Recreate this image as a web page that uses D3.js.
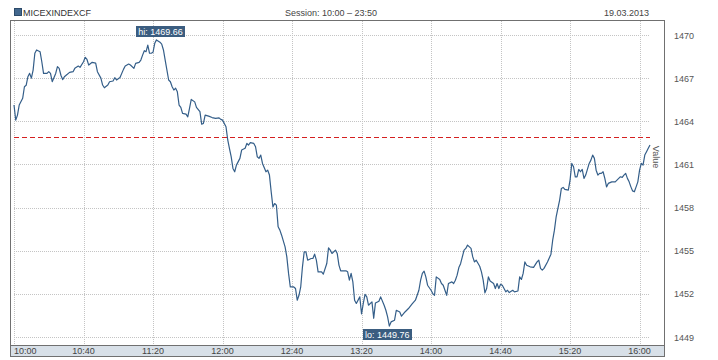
<!DOCTYPE html>
<html><head><meta charset="utf-8">
<script src="https://cdn.jsdelivr.net/npm/d3@7"></script>
<style>
html,body{margin:0;padding:0;background:#fff;}
svg{display:block;font-family:"Liberation Sans",Arial,sans-serif;}
</style></head>
<body><svg id="chart" width="718" height="360"></svg>
<script>
const seriesName = "MICEXINDEXCF";
const sessionText = "Session: 10:00 \u2013 23:50";
const dateText = "19.03.2013";
const axisTitle = "Value";
const prevClose = 1462.88;
const yTicks = [1449, 1452, 1455, 1458, 1461, 1464, 1467, 1470];
const xTicks = ["10:00","10:40","11:20","12:00","12:40","13:20","14:00","14:40","15:20","16:00"];
const xDomain = ["10:00","16:06"];
const times = [
"10:00","10:01","10:02","10:03","10:05","10:06","10:07","10:08","10:09","10:10","10:11","10:12","10:13","10:15","10:16","10:17","10:19","10:20","10:21","10:22","10:24","10:25","10:26","10:27","10:28","10:29","10:30","10:32","10:34","10:35","10:37","10:38","10:40","10:41","10:42","10:43","10:45","10:47","10:48","10:50","10:51","10:52","10:54","10:55","10:57","10:58","10:59",
"11:01","11:03","11:04","11:06","11:07","11:09","11:10","11:12","11:13","11:14","11:15","11:16","11:17","11:18","11:19","11:20","11:21","11:22","11:24","11:25","11:26","11:27","11:29","11:30","11:31","11:32","11:33","11:34","11:35","11:36","11:37","11:39","11:40","11:41","11:42","11:44","11:45","11:47","11:48","11:49","11:50","11:52","11:54","11:56","11:58","11:59",
"12:00","12:02","12:03","12:04","12:05","12:06","12:07","12:08","12:10","12:11","12:13","12:14","12:15","12:16","12:18","12:19","12:20","12:21","12:22","12:23","12:25","12:26","12:27","12:28","12:29","12:30","12:31","12:32","12:33","12:34","12:36","12:37","12:38","12:39","12:41","12:42","12:43","12:44","12:45","12:46","12:47","12:48","12:49","12:51","12:52","12:53","12:54","12:55","12:57","12:58",
"13:00","13:01","13:02","13:03","13:05","13:06","13:07","13:08","13:11","13:12","13:13","13:14","13:15","13:16","13:17","13:19","13:20","13:21","13:22","13:23","13:24","13:26","13:27","13:28","13:30","13:31","13:33","13:34","13:35","13:36","13:37","13:39","13:40","13:42","13:43","13:45","13:47","13:49","13:51","13:53","13:54","13:55","13:56","13:57","13:58",
"14:00","14:01","14:02","14:03","14:05","14:06","14:07","14:08","14:09","14:10","14:12","14:13","14:14","14:15","14:16","14:17","14:18","14:19","14:20","14:21","14:23","14:24","14:25","14:26","14:28","14:29","14:30","14:31","14:32","14:33","14:34","14:36","14:37","14:38","14:39","14:40","14:41","14:42","14:43","14:44","14:45","14:47","14:48","14:50","14:51","14:52","14:53","14:54","14:55","14:57","14:59",
"15:01","15:02","15:03","15:04","15:05","15:07","15:09","15:10","15:11","15:12","15:13","15:14","15:15","15:16","15:17","15:19","15:20","15:21","15:22","15:23","15:24","15:25","15:26","15:27","15:28","15:29","15:31","15:32","15:33","15:34","15:35","15:36","15:37","15:38","15:39","15:40","15:41","15:42","15:44","15:46","15:48","15:49","15:50","15:51","15:52","15:53","15:54","15:55","15:56","15:57","15:58","15:59",
"16:00","16:01","16:02","16:03","16:04","16:05","16:06"];
const values = [
1465.13,1464.08,1464.43,1465.13,1465.6,1466.4,1466.5,1467.1,1467.33,1467.0,1467.56,1468.73,1468.96,1468.84,1468.14,1467.33,1467.33,1467.45,1467.33,1466.75,1467.33,1467.8,1467.68,1467.2,1466.9,1467.1,1467.2,1467.4,1467.45,1467.68,1467.84,1467.75,1468.14,1468.45,1468.3,1467.91,1468.1,1468.05,1467.45,1467.0,1466.52,1466.33,1466.52,1466.75,1466.8,1467.03,1466.87,
1467.05,1467.61,1467.84,1467.98,1467.91,1467.68,1468.03,1468.1,1468.26,1468.6,1468.91,1468.84,1469.3,1468.73,1468.73,1468.8,1469.42,1469.66,1469.5,1469.37,1468.96,1468.26,1466.87,1466.75,1466.4,1466.17,1466.3,1466.05,1465.13,1464.97,1464.55,1464.5,1464.31,1464.9,1465.52,1465.35,1464.97,1464.67,1463.8,1463.85,1464.43,1464.36,1464.26,1464.2,1464.24,1464.13,
1464.08,1463.62,1462.7,1462.1,1461.53,1460.72,1460.49,1460.95,1461.42,1462.0,1462.12,1462.46,1462.35,1462.52,1462.46,1462.23,1461.53,1461.42,1461.65,1461.07,1460.49,1460.6,1460.26,1459.1,1458.05,1458.28,1458.17,1456.66,1456.43,1456.08,1455.27,1454.57,1453.42,1452.48,1452.48,1452.37,1451.56,1451.9,1452.48,1453.88,1454.92,1454.92,1454.34,1454.46,1454.46,1454.76,1454.34,1453.53,1453.53,1453.37,
1454.11,1455.2,1455.04,1454.81,1455.04,1454.81,1454.0,1453.6,1453.6,1453.53,1452.95,1453.42,1452.83,1451.56,1451.33,1451.79,1450.6,1451.33,1451.96,1451.79,1451.21,1451.44,1450.3,1451.37,1451.49,1451.79,1451.21,1450.86,1450.4,1449.76,1450.05,1450.17,1450.86,1450.74,1450.45,1450.74,1450.98,1451.28,1451.56,1452.25,1452.95,1453.42,1453.58,1453.18,1452.6,
1452.25,1452.02,1451.9,1453.18,1453.0,1452.72,1452.6,1452.25,1451.9,1452.72,1452.83,1452.72,1452.95,1453.3,1453.83,1454.1,1454.57,1455.04,1455.16,1455.39,1455.16,1454.57,1454.22,1454.34,1453.92,1453.53,1452.95,1452.07,1452.37,1453.18,1452.9,1452.72,1452.37,1452.72,1452.37,1452.67,1452.6,1452.37,1452.14,1452.25,1452.09,1452.25,1452.14,1452.2,1453.18,1453.0,1453.42,1454.22,1453.99,1453.88,1453.84,
1454.22,1454.34,1453.77,1453.65,1453.77,1454.22,1454.76,1455.73,1456.43,1457.36,1457.94,1458.52,1459.33,1459.4,1459.26,1459.21,1459.91,1461.07,1460.84,1460.14,1460.14,1460.65,1460.49,1460.65,1460.03,1460.26,1461.07,1461.3,1461.65,1461.42,1460.6,1460.26,1460.38,1460.38,1460.49,1460.03,1459.44,1459.68,1459.79,1459.79,1460.03,1460.14,1460.1,1460.26,1460.38,1460.03,1459.79,1459.44,1459.16,1459.1,1459.44,1459.79,
1460.6,1461.07,1460.95,1461.65,1461.88,1462.12,1462.35];

const parseT = d3.timeParse("%Y-%m-%d %H:%M");
const toDate = s => parseT("2013-03-19 " + s);
const data = times.map((t,i)=>({t: toDate(t), v: values[i]}));

const svg = d3.select("#chart");
const frame = {l:10, t:20, r:664, b:356};
const band = {t:345, b:356};

const x = d3.scaleTime().domain(xDomain.map(toDate)).range([14, 650]);
const y = d3.scaleLinear().domain([1449, 1470]).range([337, 35]);

// header
svg.append("rect").attr("x",14.5).attr("y",8.5).attr("width",7).attr("height",7)
  .attr("fill","#42678d").attr("stroke","#2c4a69");
svg.append("text").attr("x",23).attr("y",15.5).attr("font-size",9).attr("fill","#333").text(seriesName);
svg.append("text").attr("x",331).attr("y",15.5).attr("font-size",9).attr("fill","#444").attr("text-anchor","middle").text(sessionText);
svg.append("text").attr("x",649).attr("y",15.5).attr("font-size",9).attr("fill","#444").attr("text-anchor","end").text(dateText);

// axis band
svg.append("rect").attr("x",frame.l+0.5).attr("y",band.t+0.5).attr("width",frame.r-frame.l).attr("height",band.b-band.t)
  .attr("fill","#d8e0e8");

// gridlines
const grid = svg.append("g").attr("stroke","#c4c4c4").attr("stroke-dasharray","1,1").attr("stroke-width",1);
grid.selectAll("line.h").data(yTicks).join("line")
  .attr("x1",14).attr("x2",650)
  .attr("y1",d=>Math.round(y(d))+0.5).attr("y2",d=>Math.round(y(d))+0.5);
grid.selectAll("line.v").data(xTicks).join("line")
  .attr("x1",d=>Math.round(x(toDate(d)))+0.5).attr("x2",d=>Math.round(x(toDate(d)))+0.5)
  .attr("y1",frame.t+1).attr("y2",band.t);

// frame
svg.append("rect").attr("x",frame.l+0.5).attr("y",frame.t+0.5).attr("width",frame.r-frame.l).attr("height",frame.b-frame.t)
  .attr("fill","none").attr("stroke","#707070");
svg.append("line").attr("x1",frame.l).attr("x2",frame.r).attr("y1",band.t+0.5).attr("y2",band.t+0.5).attr("stroke","#707070");

// x tick labels
svg.selectAll("text.xt").data(xTicks).join("text")
  .attr("x",(d,i)=> i===0 ? 14 : x(toDate(d)))
  .attr("y",354).attr("font-size",9).attr("fill","#444")
  .attr("text-anchor",(d,i)=> i===0 ? "start" : "middle").text(d=>d);

// y tick labels
svg.selectAll("text.yt").data(yTicks).join("text")
  .attr("x",674).attr("y",d=>y(d)+3.5).attr("font-size",9).attr("fill","#555").text(d=>d);

// axis title
svg.append("text").attr("transform",`translate(656,157) rotate(90)`)
  .attr("text-anchor","middle").attr("dominant-baseline","central")
  .attr("font-size",9).attr("fill","#555").text(axisTitle);

// previous close dashed line
svg.append("line").attr("x1",14).attr("x2",650)
  .attr("y1",Math.round(y(prevClose))+0.5).attr("y2",Math.round(y(prevClose))+0.5)
  .attr("stroke","#d42020").attr("stroke-dasharray","5,3").attr("stroke-width",1);

// line
const line = d3.line().x(d=>x(d.t)).y(d=>y(d.v));
svg.append("path").datum(data).attr("d",line).attr("fill","none")
  .attr("stroke","#345e89").attr("stroke-width",1.2).attr("stroke-linejoin","round");

// hi / lo labels
const hi = data.reduce((a,b)=> b.v>a.v?b:a);
const lo = data.reduce((a,b)=> b.v<a.v?b:a);
function tag(pt, txt, above, dx){
  const g = svg.append("g");
  const t = g.append("text").attr("font-size",9).attr("fill","#fff").attr("text-anchor","middle").text(txt);
  const w = t.node().getComputedTextLength() + 4;
  const h = 11;
  const cx = x(pt.t) + dx;
  const py = y(pt.v);
  const top = above ? py - 3 - h : py + 3;
  g.insert("rect","text").attr("x",Math.round(cx - w/2)).attr("y",Math.round(top)).attr("width",Math.round(w)).attr("height",h).attr("fill","#3b5d80");
  t.attr("x",cx).attr("y",Math.round(top)+8.5);
}
tag(hi, "hi: " + hi.v.toFixed(2), true, 4);
tag(lo, "lo: " + lo.v.toFixed(2), false, -2);
</script></body></html>
